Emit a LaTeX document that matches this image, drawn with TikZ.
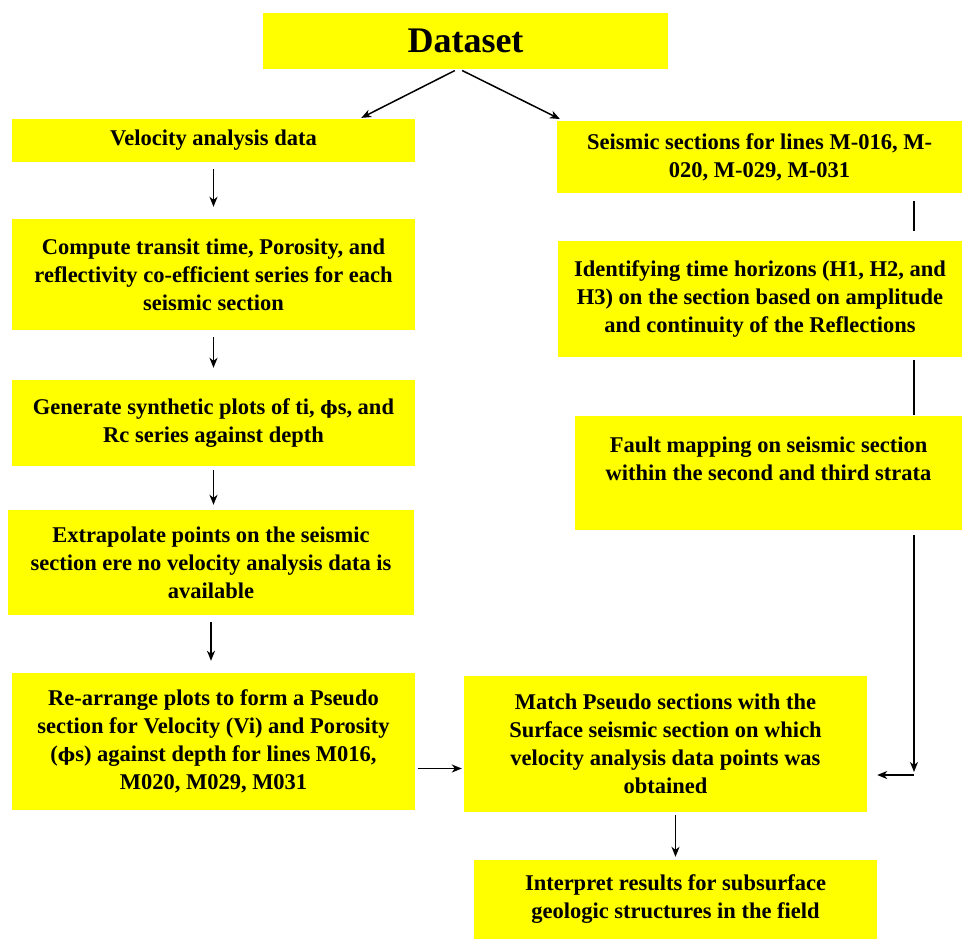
\documentclass[tikz,border=0pt]{standalone}
\usepackage{fontspec}
\setmainfont{Liberation Serif}
\newfontfamily\phifont[Scale=0.82]{DejaVu Serif}
\usetikzlibrary{positioning, arrows.meta}

\definecolor{boxyellow}{RGB}{255,255,0}
\newcommand{\phis}{{\phifont ϕ}s}

\tikzset{
	stepbox/.style={fill=boxyellow, align=center, inner sep=0pt,
		font=\bfseries\fontsize{22.5}{28}\selectfont},
	arr/.style={-{Stealth[length=10pt, width=8pt, inset=3pt]}, line width=1.5pt, shorten <=7pt, shorten >=12pt},
	link/.style={line width=1.5pt, shorten <=8pt, shorten >=10pt}
}

\begin{document}
\begin{tikzpicture}[x=1pt, y=-1pt]
		\useasboundingbox (0,0) rectangle (965,939);
		\node[stepbox, minimum width=405pt, minimum height=56pt, font=\bfseries\fontsize{36}{38}\selectfont]	(dataset) at (465.5,41) {Dataset};
		\node[stepbox, minimum width=403pt, minimum height=43pt]	(velocity) at (213.5,140.5) {Velocity analysis data};
		\node[stepbox, minimum width=405pt, minimum height=72pt]	(seismic) at (759.5,157) {Seismic sections for lines M-016, M-\\020, M-029, M-031};
		\node[stepbox, minimum width=403pt, minimum height=111pt]	(compute) at (213.5,274.5) {Compute transit time, Porosity, and\\reflectivity co-efficient series for each\\seismic section};
		\node[stepbox, minimum width=404pt, minimum height=116pt]	(horizons) at (760,299) {Identifying time horizons (H1, H2, and\\H3) on the section based on amplitude\\and continuity of the Reflections};
		\node[stepbox, minimum width=403pt, minimum height=86pt]	(synthetic) at (213.5,423) {Generate synthetic plots of ti, \phis, and\\Rc series against depth};
		\node[stepbox, minimum width=387pt, minimum height=114pt]	(fault) at (768.5,473) {Fault mapping on seismic section\\within the second and third strata\\\mbox{}};
		\node[stepbox, minimum width=406pt, minimum height=105pt]	(extrapolate) at (211,562.5) {Extrapolate points on the seismic\\section ere no velocity analysis data is\\available};
		\node[stepbox, minimum width=403pt, minimum height=137pt]	(pseudo) at (213.5,741.5) {Re-arrange plots to form a Pseudo\\section for Velocity (Vi) and Porosity\\(\phis) against depth for lines M016,\\M020, M029, M031};
		\node[stepbox, minimum width=403pt, minimum height=136pt]	(match) at (665.5,744) {Match Pseudo sections with the\\Surface seismic section on which\\velocity analysis data points was\\obtained};
		\node[stepbox, minimum width=403pt, minimum height=79pt]	(interpret) at (675.5,899.5) {Interpret results for subsurface\\geologic structures in the field};
		\coordinate (bend) at (914,772);

		\draw[arr, shorten <=3pt, shorten >=2pt] ([xshift=-8pt]dataset.south) -- ([xshift=146pt]velocity.north);
		\draw[arr, shorten <=3pt, shorten >=4pt] ([xshift=-6pt]dataset.south) -- ([xshift=-196pt]seismic.north);
		\draw[arr] (velocity) -- (compute);
		\draw[arr] (compute) -- (synthetic);
		\draw[arr, shorten <=4pt, shorten >=5pt] (synthetic) -- (synthetic.south |- extrapolate.north);
		\draw[arr] (extrapolate.south) -- (extrapolate.south |- pseudo.north);
		\draw[link] (seismic.south -| bend) -- (horizons.north -| bend);
		\draw[link, shorten <=3pt, shorten >=1pt] (horizons.south -| bend) -- (fault.north -| bend);
		\draw[arr, shorten <=5pt, shorten >=0pt] (fault.south -| bend) -- (bend);
		\draw[arr, shorten <=0pt, shorten >=10pt] ([yshift=-3pt]bend) -- ([yshift=-3pt]match.east |- bend);
		\draw[arr, shorten <=3pt, shorten >=2pt] ([yshift=-27pt]pseudo.east) -- ([yshift=-27pt]pseudo.east -| match.west);
		\draw[arr, shorten <=3pt, shorten >=3pt] (interpret.north |- match.south) -- (interpret.north);
	\end{tikzpicture}
\end{document}
